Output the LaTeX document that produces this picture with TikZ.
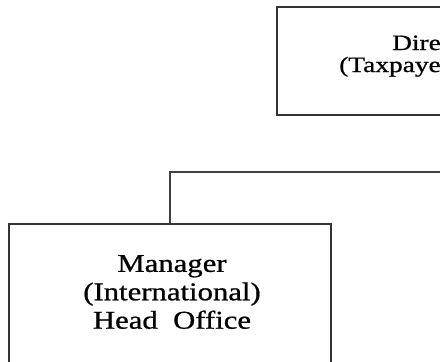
\documentclass[tikz,border=0pt]{standalone}
\usepackage{fontspec}
\setmainfont{Liberation Serif}[FakeStretch=1.2,FakeBold=0.8]
\newfontfamily\topfont{Liberation Serif}[FakeStretch=1.25,FakeBold=0.8]
\begin{document}
\begin{tikzpicture}[x=1bp,y=-1bp,
  orgbox/.style={draw=black!80, line width=1.3bp, rectangle, inner sep=0pt,
    minimum width=322bp},
  conn/.style={draw=black!75, line width=1.3bp},
  mainlbl/.style={font=\fontsize{25.7}{28.5}\selectfont, align=center, inner sep=0pt},
  toplbl/.style={font=\topfont\fontsize{22}{26}\selectfont, inner sep=0pt, anchor=base west}]
\useasboundingbox (0,0) rectangle (440,361);
\clip (0,0) rectangle (440,361);
\fill[white] (0,0) rectangle (440,361);
% top box (cut off at the right edge)
\node[orgbox, minimum height=108bp] (dir) at (438,61) {};
\node[toplbl] (dirA) at (392,50) {Dire};
\node[toplbl] (dirB) at (339,72) {(Taxpaye};
% manager box (cut off at the bottom edge)
\node[orgbox, minimum height=150bp] (mgr) at (170,299) {};
\node[mainlbl] (mgrtext) at (172,292) {Manager\\(International)\\Head\ \ Office};
% connector
\coordinate (busR) at (446,172);
\draw[conn] (mgr.north) |- (busR);
\end{tikzpicture}
\end{document}
